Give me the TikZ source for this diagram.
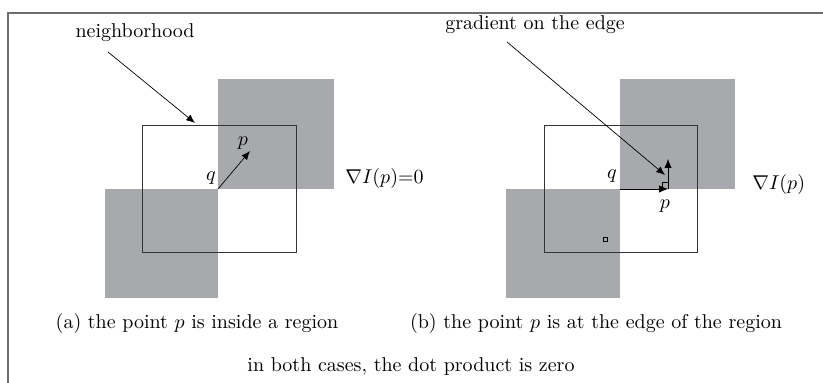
\documentclass[tikz,border=0pt]{standalone}
\usepackage{amsmath,amssymb}
\usepackage{tikz}
\usetikzlibrary{arrows.meta,positioning,calc}
\usepackage{xcolor}
\definecolor{regiongray}{RGB}{168,169,172}
\definecolor{framegray}{RGB}{110,110,110}

\begin{document}
\begin{tikzpicture}[x=0.5pt,y=-0.5pt,>={Latex[length=4.4pt,width=3.6pt]},
  region/.style={fill=regiongray,draw=none},
  nbhbox/.style={draw=black!80,line width=0.4pt},
  pointer/.style={->,line width=0.35pt},
  lbl/.style={inner sep=1pt,font=\normalsize}]
  \useasboundingbox (0,0) rectangle (823,383);
  \draw[framegray,line width=0.7pt] (823,13) -- (8,13) -- (8,383);
  % (a) point inside a region
  \fill[region] (218,79) rectangle (334,189);
  \fill[region] (105,189) rectangle (218,298);
  \draw[nbhbox] (142,125) rectangle (296,252);
  \coordinate (qa) at (218,189);
  \coordinate (gradA) at (250,151);
  \draw[pointer] (qa) -- (gradA);
  \node[lbl] (pa) at (243,143) {$p$};
  \node[lbl] (qalbl) at (211,178) {$q$};
  \node[lbl,anchor=west] (nablaA) at (343,179) {$\nabla I(p){=}0$};
  \node[lbl] (nbh) at (135,33) {neighborhood};
  \coordinate (nbhtail) at (108,52);
  \coordinate (nbhtip) at (195,123);
  \draw[pointer] (nbhtail) -- (nbhtip);
  % (b) point at the edge of the region
  \fill[region] (620,79) rectangle (735,189);
  \fill[region] (506,189) rectangle (620,298);
  \draw[nbhbox] (544,125) rectangle (697,252);
  \coordinate (qb) at (620,189);
  \coordinate (pb) at (668,189);
  \coordinate (gradB) at (668,159);
  \draw[pointer] (qb) -- (pb);
  \draw[pointer] (pb) -- (gradB);
  \draw[line width=0.35pt] (pb) ++(0,-7) -| ++(-6,7);
  \draw[line width=0.4pt] (603,237) rectangle (607,241);
  \node[lbl] (qblbl) at (612,176) {$q$};
  \node[lbl] (pblbl) at (665,206) {$p$};
  \node[lbl,anchor=west] (nablaB) at (750,185) {$\nabla I(p)$};
  \node[lbl] (edge) at (535,25) {gradient on the edge};
  \coordinate (edgetail) at (507,42);
  \coordinate (edgetip) at (665,175);
  \draw[pointer] (edgetail) -- (edgetip);
  % captions
  \node[lbl] (capa) at (197,324) {(a) the point $p$ is inside a region};
  \node[lbl] (capb) at (596,324) {(b) the point $p$ is at the edge of the region};
  \node[lbl] (capall) at (411,367) {in both cases, the dot product is zero};
\end{tikzpicture}
\end{document}
